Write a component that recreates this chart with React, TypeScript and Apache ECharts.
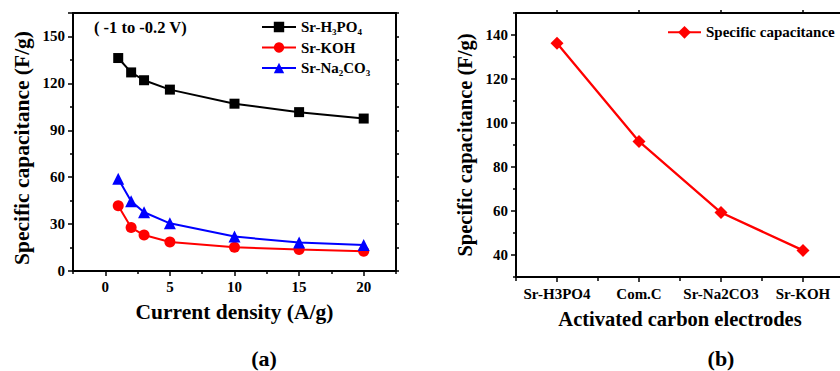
import React, { useEffect, useRef } from "react";
import * as echarts from "echarts";

// ---- data (panel a) ----
const currentDensity = [1, 2, 3, 5, 10, 15, 20];
const srH3PO4 = [136.2, 127, 122, 116, 107, 101.6, 97.5];
const srKOH = [41.8, 27.8, 23, 18.6, 15.2, 13.8, 12.6];
const srNa2CO3 = [59, 44.6, 37.6, 30.5, 22, 18.2, 16.6];
const seriesNamesA = ["Sr-H3PO4", "Sr-KOH", "Sr-Na2CO3"];

// ---- data (panel b) ----
const electrodes = ["Sr-H3PO4", "Com.C", "Sr-Na2CO3", "Sr-KOH"];
const specificCapacitance = [136.2, 91.6, 59.3, 42.1];

// ---- tick values ----
const xMajorTicksA = [0, 5, 10, 15, 20];
const xMinorTicksA = [-2.5, 2.5, 7.5, 12.5, 17.5, 22.5];
const yLabelsA = [0, 30, 60, 90, 120, 150];
const yMajorTicksB = [40, 60, 80, 100, 120, 140];
const yMinorTicksB = [30, 50, 70, 90, 110, 130, 150];

const FONT = "'Times New Roman', 'Liberation Serif', serif";
const BLACK = "#000";

const zip = (xs: number[], ys: number[]) => xs.map((x, i) => [x, ys[i]]);

export default function App() {
  const ref = useRef<HTMLDivElement>(null);

  useEffect(() => {
    if (!ref.current) return;
    const chart = echarts.init(ref.current, null, { renderer: "svg" });

    const axisLine = () => ({ show: true, onZero: false, lineStyle: { color: BLACK, width: 2 } });
    const tickStyle = () => ({ color: BLACK, width: 1.5 });
    const labelStyle = {
      color: BLACK,
      fontFamily: FONT,
      fontWeight: "bold" as const,
      fontSize: 15,
    };
    const nameStyleA = {
      color: BLACK,
      fontFamily: FONT,
      fontWeight: "bold" as const,
      fontSize: 21.5,
    };
    const nameStyleB = { ...nameStyleA, fontSize: 20.5 };

    const legendText = {
      color: BLACK,
      fontFamily: FONT,
      fontWeight: "bold" as const,
      fontSize: 15,
      lineHeight: 18,
      rich: {
        s: {
          color: BLACK,
          fontFamily: FONT,
          fontWeight: "bold" as const,
          fontSize: 9,
          lineHeight: 10,
          verticalAlign: "bottom" as const,
        },
      },
    };

    const option: any = {
      animation: false,
      backgroundColor: "#fff",
      grid: [
        { left: 73, top: 13, width: 323, height: 258, outerBoundsMode: "none" },
        { left: 516, top: 13, width: 328, height: 264, outerBoundsMode: "none" },
      ],
      legend: [
        {
          data: seriesNamesA,
          orient: "vertical",
          left: 261,
          top: 18,
          padding: 0,
          itemWidth: 34,
          itemHeight: 13,
          itemGap: 2.5,
          textStyle: legendText,
          formatter: (name: string) => name.replace(/(\d)/g, "{s|$1}"),
        },
        {
          data: ["Specific capacitance"],
          left: 667,
          top: 23.3,
          padding: 0,
          itemWidth: 33,
          itemHeight: 16,
          textStyle: { ...legendText, rich: undefined },
        },
      ],
      xAxis: [
        {
          type: "value",
          gridIndex: 0,
          position: "bottom",
          min: -2.5,
          max: 22.5,
          axisLine: axisLine(),
          axisTick: { show: true, customValues: xMajorTicksA, length: 5, lineStyle: tickStyle() },
          axisLabel: { ...labelStyle, customValues: xMajorTicksA, margin: 8 },
          splitLine: { show: false },
          name: "Current density (A/g)",
          nameLocation: "middle",
          nameGap: 30,
          nameTextStyle: nameStyleA,
        },
        {
          type: "value",
          gridIndex: 0,
          position: "bottom",
          min: -2.5,
          max: 22.5,
          axisLine: { show: false, onZero: false },
          axisTick: { show: true, customValues: xMinorTicksA, length: 3, lineStyle: tickStyle() },
          axisLabel: { show: false },
          splitLine: { show: false },
        },
        {
          type: "value",
          gridIndex: 0,
          position: "top",
          min: -2.5,
          max: 22.5,
          axisLine: axisLine(),
          axisTick: { show: false },
          axisLabel: { show: false },
          splitLine: { show: false },
        },
        {
          type: "category",
          gridIndex: 1,
          position: "bottom",
          data: electrodes,
          boundaryGap: true,
          axisLine: axisLine(),
          axisTick: { show: true, alignWithLabel: true, length: 5, lineStyle: tickStyle() },
          axisLabel: { ...labelStyle, margin: 9, interval: 0 },
          splitLine: { show: false },
          name: "Activated carbon electrodes",
          nameLocation: "middle",
          nameGap: 31,
          nameTextStyle: nameStyleB,
        },
        {
          type: "category",
          gridIndex: 1,
          position: "bottom",
          data: electrodes,
          boundaryGap: true,
          axisLine: { show: false, onZero: false },
          axisTick: { show: true, alignWithLabel: false, length: 4, lineStyle: tickStyle() },
          axisLabel: { show: false },
          splitLine: { show: false },
        },
        {
          type: "category",
          gridIndex: 1,
          position: "top",
          data: electrodes,
          boundaryGap: true,
          axisLine: axisLine(),
          axisTick: { show: true, alignWithLabel: true, length: 3, lineStyle: tickStyle() },
          axisLabel: { show: false },
          splitLine: { show: false },
        },
      ],
      yAxis: [
        {
          type: "value",
          gridIndex: 0,
          position: "left",
          min: 0,
          max: 165,
          interval: 30,
          axisLine: axisLine(),
          axisTick: { show: true, length: 5, lineStyle: tickStyle() },
          minorTick: { show: true, splitNumber: 2, length: 3, lineStyle: tickStyle() },
          axisLabel: { ...labelStyle, margin: 8, customValues: yLabelsA },
          splitLine: { show: false },
          minorSplitLine: { show: false },
          name: "Specific capacitance (F/g)",
          nameLocation: "middle",
          nameGap: 40,
          nameTextStyle: { ...nameStyleA, padding: [0, 12, 0, 0] },
        },
        {
          type: "value",
          gridIndex: 0,
          position: "right",
          min: 0,
          max: 165,
          interval: 15,
          axisLine: axisLine(),
          axisTick: { show: true, length: 3, lineStyle: tickStyle() },
          axisLabel: { show: false },
          splitLine: { show: false },
        },
        {
          type: "value",
          gridIndex: 1,
          position: "left",
          min: 30,
          max: 150,
          axisLine: axisLine(),
          axisTick: { show: true, customValues: yMajorTicksB, length: 5, lineStyle: tickStyle() },
          axisLabel: { ...labelStyle, customValues: yMajorTicksB, margin: 8 },
          splitLine: { show: false },
          name: "Specific capacitance (F/g)",
          nameLocation: "middle",
          nameGap: 41,
          nameTextStyle: nameStyleB,
        },
        {
          type: "value",
          gridIndex: 1,
          position: "left",
          min: 30,
          max: 150,
          axisLine: { show: false, onZero: false },
          axisTick: { show: true, customValues: yMinorTicksB, length: 3, lineStyle: tickStyle() },
          axisLabel: { show: false },
          splitLine: { show: false },
        },
      ],
      series: [
        {
          name: seriesNamesA[0],
          type: "line",
          xAxisIndex: 0,
          yAxisIndex: 0,
          data: zip(currentDensity, srH3PO4),
          symbol: "rect",
          symbolSize: 10,
          itemStyle: { color: "#000000" },
          lineStyle: { color: "#000000", width: 2 },
        },
        {
          name: seriesNamesA[1],
          type: "line",
          xAxisIndex: 0,
          yAxisIndex: 0,
          data: zip(currentDensity, srKOH),
          symbol: "circle",
          symbolSize: 11,
          itemStyle: { color: "#ff0000" },
          lineStyle: { color: "#ff0000", width: 2 },
        },
        {
          name: seriesNamesA[2],
          type: "line",
          xAxisIndex: 0,
          yAxisIndex: 0,
          data: zip(currentDensity, srNa2CO3),
          symbol: "triangle",
          symbolSize: 12,
          itemStyle: { color: "#0000ff" },
          lineStyle: { color: "#0000ff", width: 2 },
        },
        {
          name: "Specific capacitance",
          type: "line",
          xAxisIndex: 3,
          yAxisIndex: 2,
          data: specificCapacitance,
          symbol: "diamond",
          symbolSize: 13,
          itemStyle: { color: "#ff0000" },
          lineStyle: { color: "#ff0000", width: 2.3 },
        },
      ],
      graphic: [
        {
          type: "text",
          x: 94,
          y: 27,
          style: {
            text: "( -1 to -0.2 V)",
            fill: BLACK,
            fontFamily: FONT,
            fontWeight: "bold",
            fontSize: 16.5,
            align: "left",
            verticalAlign: "middle",
          },
        },
        {
          type: "text",
          x: 264,
          y: 358,
          style: {
            text: "(a)",
            fill: BLACK,
            fontFamily: FONT,
            fontWeight: "bold",
            fontSize: 22,
            align: "center",
            verticalAlign: "middle",
          },
        },
        {
          type: "text",
          x: 721,
          y: 358,
          style: {
            text: "(b)",
            fill: BLACK,
            fontFamily: FONT,
            fontWeight: "bold",
            fontSize: 22,
            align: "center",
            verticalAlign: "middle",
          },
        },
      ],
    };

    chart.setOption(option);
    return () => chart.dispose();
  }, []);

  return (
    <div
      ref={ref}
      style={{ position: "absolute", left: 0, top: 0, width: 840, height: 371 }}
    />
  );
}
